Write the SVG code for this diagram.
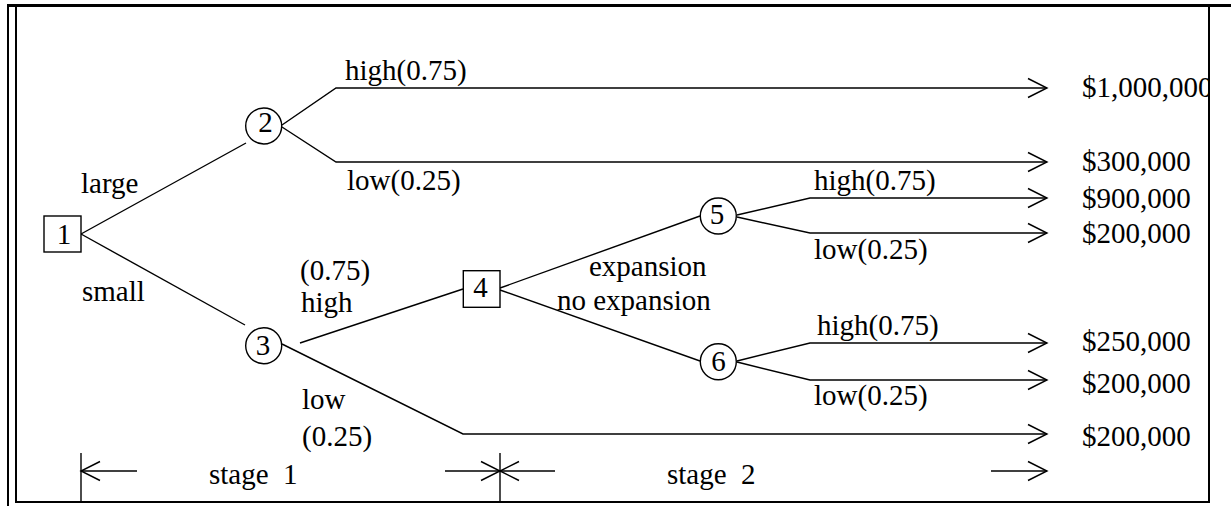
<svg xmlns="http://www.w3.org/2000/svg" width="1231" height="506" viewBox="0 0 1231 506">
  <style>
    .ln { stroke: #000; stroke-width: 1.4; fill: none; }
    .frame { stroke: #000; stroke-width: 2; fill: none; }
    .node { fill: #fff; stroke: #000; stroke-width: 1.4; }
    .tx { font-family: "Liberation Serif", "Times New Roman", serif; font-size: 29px; fill: #000; white-space: pre; }
    .mid { text-anchor: middle; }
  </style>
  <defs>
    <marker id="chev" markerUnits="userSpaceOnUse" viewBox="-21 -11 23 22" refX="0" refY="0" markerWidth="23" markerHeight="22" orient="auto">
      <path d="M-19,-9.5 L0,0 L-19,9.5" fill="none" stroke="#000" stroke-width="1.4"/>
    </marker>
    <clipPath id="inside">
      <rect x="0" y="0" width="1208" height="506"/>
    </clipPath>
  </defs>

  <rect width="1231" height="506" fill="#fff"/>

  <!-- frame -->
  <g id="frame">
    <rect class="frame" x="16" y="5" width="1193" height="497"/>
    <rect x="7" y="4" width="2" height="502" fill="#000"/>
    <rect x="7" y="4" width="1224" height="3" fill="#000"/>
  </g>

  <!-- branches of the tree -->
  <g id="connectors">
    <path class="ln" d="M81,234 L246,143"/>
    <path class="ln" d="M81,234 L245,325"/>
    <path class="ln" d="M282,125 L336,88 H1047" marker-end="url(#chev)"/>
    <path class="ln" d="M282,127 L336,162 H1047" marker-end="url(#chev)"/>
    <path class="ln" d="M282,344 L463,434 H1047" marker-end="url(#chev)"/>
    <path class="ln" d="M300,343 L463,289"/>
    <path class="ln" d="M500,288 L700,216"/>
    <path class="ln" d="M500,290 L700,361"/>
    <path class="ln" d="M737,215 L810,198 H1047" marker-end="url(#chev)"/>
    <path class="ln" d="M737,217 L810,233 H1047" marker-end="url(#chev)"/>
    <path class="ln" d="M737,361 L810,343 H1047" marker-end="url(#chev)"/>
    <path class="ln" d="M737,362 L810,380 H1047" marker-end="url(#chev)"/>
  </g>

  <!-- stage dimension lines -->
  <g id="stages">
    <path class="ln" d="M81,453 V502"/>
    <path class="ln" d="M500,453 V502"/>
    <path class="ln" d="M137,471 H81" marker-end="url(#chev)"/>
    <path class="ln" d="M445,471 H500" marker-end="url(#chev)"/>
    <path class="ln" d="M555,471 H500" marker-end="url(#chev)"/>
    <path class="ln" d="M991,471 H1047" marker-end="url(#chev)"/>
    <text class="tx" x="209" y="484">stage  1</text>
    <text class="tx" x="667" y="484">stage  2</text>
  </g>

  <!-- decision and chance nodes -->
  <g id="node1">
    <rect class="node" x="44" y="216" width="37" height="36"/>
    <text class="tx mid" x="64" y="244">1</text>
  </g>
  <g id="node2">
    <circle class="node" cx="263.7" cy="126" r="18"/>
    <text class="tx mid" x="265.5" y="132">2</text>
  </g>
  <g id="node3">
    <circle class="node" cx="263.7" cy="345.7" r="18"/>
    <text class="tx mid" x="263" y="355">3</text>
  </g>
  <g id="node4">
    <rect class="node" x="463.3" y="270.7" width="36.7" height="36.6"/>
    <text class="tx mid" x="480.5" y="297">4</text>
  </g>
  <g id="node5">
    <circle class="node" cx="718.3" cy="216" r="18"/>
    <text class="tx mid" x="717" y="224">5</text>
  </g>
  <g id="node6">
    <circle class="node" cx="718.3" cy="361.7" r="18"/>
    <text class="tx mid" x="718.5" y="371">6</text>
  </g>

  <!-- branch labels -->
  <g id="labels">
    <text class="tx" x="345" y="80">high(0.75)</text>
    <text class="tx" x="347" y="190">low(0.25)</text>
    <text class="tx" x="81" y="193">large</text>
    <text class="tx" x="82" y="301">small</text>
    <text class="tx" x="300" y="280">(0.75)</text>
    <text class="tx" x="301" y="312">high</text>
    <text class="tx" x="302" y="409">low</text>
    <text class="tx" x="302" y="446">(0.25)</text>
    <text class="tx" x="589" y="276">expansion</text>
    <text class="tx" x="557" y="310">no expansion</text>
    <text class="tx" x="814" y="190">high(0.75)</text>
    <text class="tx" x="814" y="259">low(0.25)</text>
    <text class="tx" x="817" y="335">high(0.75)</text>
    <text class="tx" x="814" y="405">low(0.25)</text>
  </g>

  <!-- payoffs -->
  <g id="payoffs">
    <text class="tx" x="1082" y="97" clip-path="url(#inside)">$1,000,000</text>
    <text class="tx" x="1082" y="171">$300,000</text>
    <text class="tx" x="1082" y="208">$900,000</text>
    <text class="tx" x="1082" y="243">$200,000</text>
    <text class="tx" x="1082" y="351">$250,000</text>
    <text class="tx" x="1082" y="393">$200,000</text>
    <text class="tx" x="1082" y="446">$200,000</text>
  </g>
</svg>
